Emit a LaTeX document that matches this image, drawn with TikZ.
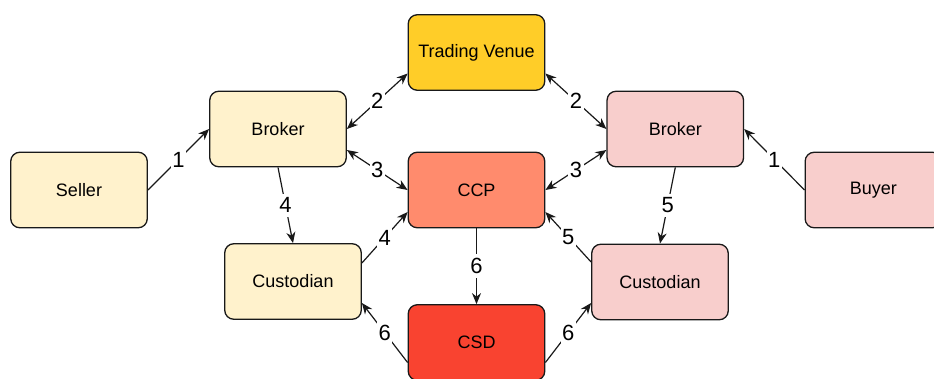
\documentclass[tikz,border=0pt]{standalone}
\usepackage{fontspec}
\setmainfont{Liberation Sans}
\usetikzlibrary{arrows.meta}
\definecolor{lyellow}{HTML}{FFF2CC}
\definecolor{lred}{HTML}{F8CECC}
\definecolor{venue}{HTML}{FFCD28}
\definecolor{ccpcol}{HTML}{FF8B6D}
\definecolor{csdcol}{HTML}{F94330}
\tikzset{
  box/.style={draw=black!90, rounded corners=9pt, minimum width=136.5pt, minimum height=75.5pt,
    line width=1.3pt, font=\fontsize{18}{21}\selectfont, inner sep=0pt},
  conn/.style={line width=1.2pt, draw=black!90},
  tip/.style={-{Stealth[length=11pt,width=9pt,inset=3.5pt]}},
  bitip/.style={{Stealth[length=11pt,width=9pt,inset=3.5pt]}-{Stealth[length=11pt,width=9pt,inset=3.5pt]}},
  lab/.style={midway, fill=white, inner xsep=1.5pt, inner ysep=4pt, font=\fontsize{22}{22}\selectfont}
}
\begin{document}
\begin{tikzpicture}[x=1pt,y=-1pt]
\useasboundingbox (0,0) rectangle (934,378);
\node[box, fill=venue]  (tv)     at (476.5,52.5) {Trading Venue};
\node[box, fill=lyellow] (seller) at (79,190)    {Seller};
\node[box, fill=lyellow] (bl)     at (278,129)   {Broker};
\node[box, fill=lyellow] (cl)     at (293,281.5) {Custodian};
\node[box, fill=ccpcol]  (ccp)    at (476.5,190) {CCP};
\node[box, fill=csdcol]  (csd)    at (476.5,342.5) {CSD};
\node[box, fill=lred]    (br)     at (675.3,129) {Broker};
\node[box, fill=lred]    (cr)     at (660,282)   {Custodian};
\node[box, fill=lred]    (buyer)  at (873.4,190) {Buyer};

% left side
\draw[conn,tip] (seller.east) -- node[lab]{1} (bl.west);
\draw[conn,bitip] ([yshift=-21pt]tv.west) -- node[lab]{2} (bl.east);
\draw[conn,bitip] ([yshift=-21pt]bl.east) -- node[lab]{3} (ccp.west);
\draw[conn,tip] (bl.south) -- node[lab]{4} (cl.north);
\draw[conn,tip] ([yshift=18.5pt]cl.east) -- node[lab]{4} ([yshift=-22pt]ccp.west);
\draw[conn,tip] ([yshift=-20pt]csd.west) -- node[lab]{6} ([yshift=-21.5pt]cl.east);
% centre
\draw[conn,tip] (ccp.south) -- node[lab]{6} (csd.north);
% right side
\draw[conn,bitip] ([yshift=-21pt]tv.east) -- node[lab]{2} (br.west);
\draw[conn,bitip] ([yshift=-21pt]br.west) -- node[lab]{3} (ccp.east);
\draw[conn,tip] (buyer.west) -- node[lab]{1} (br.east);
\draw[conn,tip] (br.south) -- node[lab]{5} (cr.north);
\draw[conn,tip] ([yshift=20pt]cr.west) -- node[lab]{5} ([yshift=-22pt]ccp.east);
\draw[conn,tip] ([yshift=-20pt]csd.east) -- node[lab]{6} ([yshift=-21pt]cr.west);
\end{tikzpicture}
\end{document}
